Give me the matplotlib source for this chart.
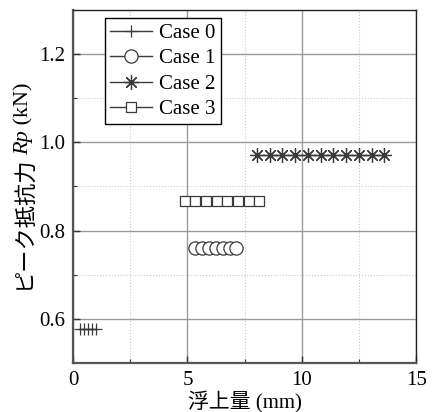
import matplotlib
matplotlib.use("Agg")
import matplotlib.pyplot as plt
from matplotlib.ticker import MultipleLocator

plt.rcParams["font.family"] = ["Liberation Serif", "Noto Sans CJK JP"]

# Data
case0_x = [0.31, 0.48, 0.66, 0.83, 0.99]
case0_y = [0.578, 0.578, 0.578, 0.578, 0.578]
case1_x = [5.35, 5.65, 5.95, 6.24, 6.54, 6.84, 7.13]
case1_y = [0.760, 0.760, 0.760, 0.760, 0.760, 0.760, 0.760]
case2_x = [8.03, 8.59, 9.15, 9.70, 10.26, 10.82, 11.38, 11.94, 12.49, 13.05, 13.61]
case2_y = [0.972] * 11
case3_x = [4.89, 5.35, 5.82, 6.28, 6.75, 7.21, 7.68, 8.14]
case3_y = [0.866] * 8
labels = ["Case 0", "Case 1", "Case 2", "Case 3"]
ylabel_parts = [("ピーク抵抗力", "normal"), ("Rp", "italic"), (" (kN)", "normal")]

fig = plt.figure(figsize=(4.33, 4.12), dpi=100)
ax = fig.add_axes([0.169, 0.119, 0.792, 0.857])

line_color = "#3a3a3a"
common = dict(color=line_color, linewidth=1.0, markerfacecolor="white",
              markeredgecolor=line_color, markeredgewidth=0.9)
ax.plot(case0_x, case0_y, marker="+", markersize=9, label=labels[0], **common)
ax.plot(case1_x, case1_y, marker="o", markersize=9.5, label=labels[1], **common)
ax.plot(case2_x, case2_y, marker=(8, 2, 0), markersize=10.5, label=labels[2], **common)
ax.plot(case3_x, case3_y, marker="s", markersize=7.8, label=labels[3], **common)

ax.set_xlim(0, 15)
ax.set_ylim(0.5, 1.3)
ax.xaxis.set_major_locator(MultipleLocator(5))
ax.xaxis.set_minor_locator(MultipleLocator(2.5))
ax.yaxis.set_major_locator(MultipleLocator(0.2))
ax.yaxis.set_minor_locator(MultipleLocator(0.1))
ax.yaxis.set_major_formatter(plt.FormatStrFormatter("%.1f"))

ax.grid(which="major", color="#9a9a9a", linewidth=1.0, linestyle="-")
ax.grid(which="minor", color="#c8c8c8", linewidth=0.8, linestyle=":")
ax.set_axisbelow(True)

ax.tick_params(which="both", direction="in", top=False, right=False,
               labelsize=15, color="#333333")
ax.tick_params(which="major", length=5, width=1.0, pad=6)
ax.tick_params(which="minor", length=3, width=0.8)

for side in ["left", "bottom"]:
    ax.spines[side].set_linewidth(1.6)
    ax.spines[side].set_color("#555555")
for side in ["top", "right"]:
    ax.spines[side].set_linewidth(1.0)
    ax.spines[side].set_color("#222222")

ax.set_xlabel("浮上量 (mm)", fontsize=15, labelpad=0)

leg = ax.legend(loc="upper left", bbox_to_anchor=(0.0925, 0.9765),
                borderaxespad=0, fontsize=15, frameon=True, fancybox=False,
                edgecolor="black", framealpha=1, handlelength=2.0,
                handletextpad=0.35, labelspacing=0.28, borderpad=0.25)
leg.get_frame().set_linewidth(1.0)

# y label made of pieces so the Japanese, italic Rp and (kN) mix
fig.canvas.draw()
renderer = fig.canvas.get_renderer()
W, H = fig.bbox.width, fig.bbox.height
x_lab = 24 / W
pieces = []
for txt, style in ylabel_parts:
    t = fig.text(x_lab, 0.5, txt, rotation=90, fontsize=16, style=style,
                 ha="center", va="bottom")
    pieces.append(t)
heights = [p.get_window_extent(renderer).height for p in pieces]
ax_box = ax.get_window_extent(renderer)
y = (ax_box.y0 + ax_box.y1) / 2 - sum(heights) / 2
for p, h in zip(pieces, heights):
    p.set_y(y / H)
    y += h + 0.5

fig.savefig("out.png", dpi=100)
